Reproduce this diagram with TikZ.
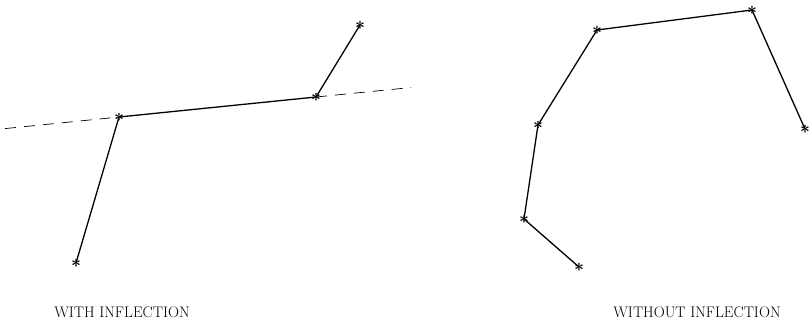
\documentclass[tikz,border=0pt]{standalone}
\usepackage{tikz}
\usetikzlibrary{calc}
\tikzset{
  knot/.style={
    inner sep=0pt,
    minimum size=0pt,
    font=\fontsize{19}{20}\selectfont\boldmath
  },
  chord/.style={
    line width=1.3pt
  },
  tangent/.style={
    line width=0.7pt,
    dash pattern=on 11pt off 8pt
  },
  caption/.style={
    font=\fontsize{15.3}{17}\selectfont,
    anchor=base
  }
}
\newcommand{\knotmark}{$\ast$}

\begin{document}
\begin{tikzpicture}[x=1pt,y=-1pt]
\useasboundingbox (0,0) rectangle (811,327);

% --- Courbe avec inflexion ---
\coordinate (A) at (76,263);
\coordinate (B) at (119,117);
\coordinate (C) at (316,97);
\coordinate (D) at (360,25);
\coordinate (tl) at (5,128.6);
\coordinate (tr) at (411,87.5);

\draw[tangent] (tl) -- (B);
\draw[tangent] (C) -- (tr);
\draw[chord] (A) -- (B) -- (C) -- (D);

\foreach \p in {A,B,C,D}
  \node[knot] (m\p) at (\p) {\knotmark};

% --- Courbe sans inflexion ---
\coordinate (P1) at (579,267);
\coordinate (P2) at (524,219);
\coordinate (P3) at (538,125);
\coordinate (P4) at (597,30);
\coordinate (P5) at (752,10);
\coordinate (P6) at (805,129);

\draw[chord] (P1) -- (P2) -- (P3) -- (P4) -- (P5) -- (P6);

\foreach \p in {P1,P2,P3,P4,P5,P6}
  \node[knot] (m\p) at (\p) {\knotmark};

% --- Legendes ---
\node[caption] (withlbl) at (122,317) {WITH INFLECTION};
\node[caption] (withoutlbl) at (697,317) {WITHOUT INFLECTION};

\end{tikzpicture}
\end{document}
